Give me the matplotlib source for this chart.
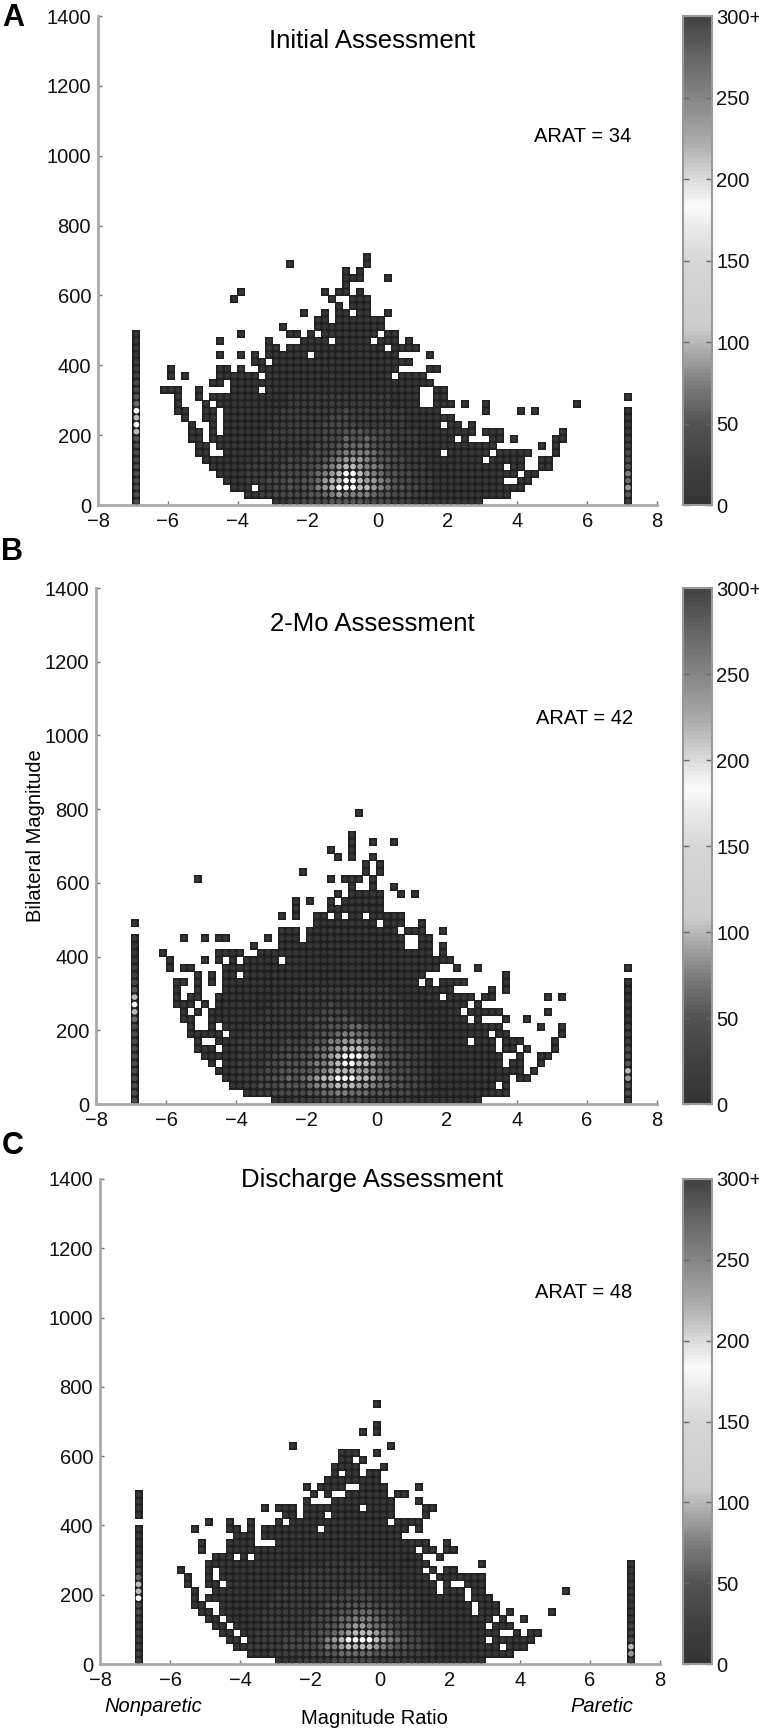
import numpy as np
import matplotlib
matplotlib.use('Agg')
import matplotlib.pyplot as plt
from matplotlib.colors import LinearSegmentedColormap

plt.rcParams['font.family'] = ['Liberation Sans', 'DejaVu Sans']

# counts per cell. each string is one row, bottom row first,
# each group is 10 columns. '.' = no data, digits index into count_levels
count_levels = [0, 5, 20, 38, 52, 64, 76, 88, 102, 185]

map_a = [
    ".......... .......112 2333344444 3333222111 1111111...",
    ".......... ...1122333 3344567666 6544333222 1111111111 1",
    ".......... .111.22334 3446789998 8765443322 1111111111 111",
    ".......... 1112223334 3445788998 7765433222 1111111111 ..11",
    ".........1 1112222333 3345678998 7654433222 1111111111 11.11",
    "........11 1112222233 3334567887 6654332221 1111111111 .11..11",
    ".......111 1111222223 2333456777 6544332221 1111111.11 111..11",
    "......11.. 1111122222 2233345666 6543322211 1.111111.1 1111...1",
    "......11.1 1111122222 2223334555 5433322211 111111111. .....1.1",
    ".....11.11 1111112222 2222333544 5433222211 111.1...11 .1.....11",
    ".....11.1. 1111112222 2222333444 3333222211 111111.111 ........1",
    ".....1..1. 1111111222 2222333332 2222221111 1.11.1",
    "....1..11. 1111111222 2222233322 2222221111 111",
    "...11..11. 1111111122 2222222322 2222221111 1......1 ..1.1",
    "...1...1.1 1111111112 2222222222 22221111.. 111.1..1 .......... 1",
    "...1..1.11 1111111112 2222222222 22221111.. 11",
    ".111..1... .1111.1111 1111111111 11111111.. 11",
    "........11 .111111111 1111111111 1111111111",
    "..1.1....1 11111.1111 1111111111 1111.1111",
    "..1......1 1.1..11111 1111111111 11111....1 1",
    ".......... ....11.111 1111111111 1111111",
    ".........1 ..1.1.1111 11.1111111 11111....1",
    ".......... ......11.1 1111111111 111.1111",
    ".........1 ......1... .1111.1111 1.111.1",
    ".......... ..1......1 1.1.111111 11.11",
    ".......... ........1. ...1111111 111",
    ".......... .......... ...11.1111 111",
    ".......... .......... .1..1.11.1 1..1",
    ".......... .......... ......1.11 1",
    ".......... .1........ .....1..11 1",
    ".......... ..1....... ....1.11.1",
    ".......... .......... .......1",
    ".......... .......... .......111 ...1",
    ".......... .......... .......1.1",
    ".......... .........1 .......... 1",
    ".......... .......... .......... 1",
]

map_b = [
    ".......... .......111 2222333333 2222222111 1111111",
    ".......... ...1122333 3344556655 5444333222 1111111111 1",
    ".......... .112233344 4456778887 7655443322 111111111. 1",
    ".......... 1122233445 4567889998 8765443322 1111111111 1.11",
    ".........1 1122223344 4445678887 7654433222 1111111111 111.1",
    "........1. 1122223344 4456678998 8755433222 1111111111 .11..1",
    ".......111 1122222334 3445678999 8754333222 1111111111 ..1..11",
    "......111. 1122222233 3345567888 7654332222 111111111. 11.1...1",
    "......1..1 1122222223 2334466777 6543322222 11111.111. 111....1",
    ".....11111 .112222222 2233445665 5433322221 11111111.1 1.......1",
    ".....1..1. 1111222222 2223344455 4333222221 1111111111 .....1..1",
    "....11..11 1111122222 2233343432 2222221111 11111.1... 1..1",
    "....1.1.11 1111112222 2222333322 2222221111 1111.11111 ......1",
    "...111.1.1 1111111222 2222232222 2222221111 11111.1",
    "...1.11..1 1111111111 2222222222 2222211111 1.1111.11. ......1.1",
    "...1..1... 1111111111 1222222222 2222111111 111.....1. 1",
    "...11.1.1. 1111111111 1111111111 11111111.1 .1111..... 1",
    "......1.1. 11.1111111 1111111111 111111111. .......... 1",
    "..1.11.... 1111111111 1111111111 1111111111 1..1..1",
    "..1....1.1 .1.11111.1 1111111111 1111111111 111",
    ".1.......1 111..11111 1111111111 1111111111 .1",
    ".......... ....1...11 1111111111 111111..11 .1",
    "....1..1.1 1.....1.11 1.11111111 111111..11",
    ".......... ........11 1.11111111 11111.111. .1",
    ".......... .......... ...1111111 11.111..1",
    ".......... ........1. 1..11.1.11 .11111",
    ".......... .......... 1....11111 111",
    ".......... .......... 1.1..1.111 111",
    ".......... .......... ......1.11 111..1.1",
    ".......... .......... ........1. .1..1",
    "......1... .......... .....1.111 .1",
    ".......... .......... .1........ 1.1",
    ".......... .......... .......... 1.1",
    ".......... .......... ......1.1. .1",
    ".......... .......... .....1..1.",
    ".......... .......... ........1. .1..1",
    ".......... .......... ........1.",
    "",
    "",
    ".......... .......... .........1",
]

map_c = [
    ".......... .......111 2222233333 3222222111 1111111",
    ".......... ...1112222 2233445555 5444332222 1111111111 1",
    ".......... .112222233 3334667888 8765443322 111111111. 111",
    ".......... 11.1222233 3344678999 9876543322 1111111.11 1111",
    ".........1 1.11222223 2334456788 8765433221 111111111. .1.11",
    "........11 .111122222 2233445677 6554332221 1111111.11 1",
    ".......11. 1111122222 2233345566 6544332211 11111111.1 ..1",
    "......11.1 1111122222 2223334455 5443322211 11111.111. 1.....1",
    ".....11..1 1111112222 2222333444 4333222211 11111.111.",
    ".....1.111 1111111222 2222233333 3222222111 1111.111",
    ".....1..11 1111111222 2222222333 2222222111 .111.11... ........1",
    "....1..11. 1111111122 2222222222 2222111111 .1..111",
    "....1..1.1 1111111112 2222222222 222111111. 1111111",
    "...1...1.1 1111111111 1222222222 22111111.1 .11",
    ".......111 1111111111 1111222222 211111111. ......1",
    "........11 1.1.111111 1111111111 11111111.. 1",
    "......1... 1111111111 1111111111 1111111.11 .11",
    "......1... 1111...111 1111111111 111111111. .1",
    ".......... .111.11111 1111111111 11111",
    ".....1.... 11.1.11111 111.111111 111111.1",
    ".......1.. 1..1...1.1 1111111111 111.1111",
    ".......... ........11 .111.11111 1111....1",
    ".......... .....1.111 .11111111. 1111....11",
    ".......... .......... .1...11111 1111...1",
    ".......... .......... ..1.1..111 111.11",
    ".......... .......... .1.1111..1 111....1",
    ".......... .......... ....111111 11",
    ".......... .......... .....1.11. 11",
    ".......... .......... .....1111. ..1",
    ".......... .......... ......11.1",
    ".......... .......... ......111. .1",
    ".......... .........1 .......... ...1",
    "",
    ".......... .......... .........1 .1",
    ".......... .......... .......... .1",
    "",
    "",
    ".......... .......... .......... .1",
]

# the two outer columns, bottom row first, 0 = no data
left_a = [3, 3, 3, 3, 3, 3, 3, 3, 3, 4, 8, 9, 8, 9, 5, 4, 3, 3, 2, 2, 2, 1, 1, 1, 1]
right_a = [2, 4, 7, 5, 6, 4, 3, 3, 2, 2, 1, 1, 1, 1, 0, 1]
left_b = [3, 3, 3, 3, 3, 3, 3, 3, 3, 3, 3, 5, 8, 9, 8, 4, 3, 2, 2, 1, 1, 1, 1, 0, 1]
right_b = [2, 3, 3, 7, 8, 4, 3, 3, 2, 2, 2, 1, 1, 1, 1, 1, 1, 0, 1]
left_c = [2, 2, 2, 2, 2, 2, 2, 3, 3, 9, 8, 8, 5, 3, 2, 2, 1, 1, 1, 1, 0, 1, 1, 1, 1]
right_c = [2, 7, 8, 3, 2, 2, 1, 1, 1, 1, 1, 1, 1, 1, 1]

titles = ['Initial Assessment', '2-Mo Assessment', 'Discharge Assessment']
arat = [34, 42, 48]
panel_letters = ['A', 'B', 'C']
y_ticks = [0, 200, 400, 600, 800, 1000, 1200, 1400]
x_ticks = [-8, -6, -4, -2, 0, 2, 4, 6, 8]
cbar_ticks = [0, 50, 100, 150, 200, 250, 300]
cbar_labels = ['0', '50', '100', '150', '200', '250', '300+']

# grey map of the colorbar
cmap_stops = [(0, '#333333'), (25, '#404040'), (50, '#525252'), (75, '#7d7d7d'), (95, '#ababab'),
              (110, '#cdcdcd'), (150, '#d6d6d6'), (170, '#e8e8e8'), (185, '#fbfbfb'), (200, '#dedede'),
              (225, '#ababab'), (250, '#888888'), (275, '#686868'), (300, '#444444')]
bw = LinearSegmentedColormap.from_list('bw', [(v / 300, c) for v, c in cmap_stops], N=128)

W, H = 759, 1732
fig = plt.figure(figsize=(W / 100, H / 100), dpi=100)


def px_axes(left, top, right, bottom):
    return fig.add_axes([left / W, 1 - bottom / H, (right - left) / W, (bottom - top) / H])


def px_text(x, y, s, **kw):
    return fig.text(x / W, 1 - y / H, s, ha=kw.pop('ha', 'center'), va=kw.pop('va', 'center'), **kw)


def cells(rows, left, right):
    xs, ys, vals = [], [], []
    for r, row in enumerate(rows):
        line = ''.join(g.ljust(10, '.') for g in row.split())
        for j, ch in enumerate(line):
            if ch != '.':
                xs.append(-6.3 + 0.2 * j)
                ys.append(10 + 20 * r)
                vals.append(count_levels[int(ch)])
    for col_x, col in ((-6.9, left), (7.17, right)):
        for r, d in enumerate(col):
            if d:
                xs.append(col_x)
                ys.append(10 + 20 * r)
                vals.append(count_levels[d])
    return xs, ys, vals


panels = [
    (map_a, left_a, right_a, (98, 16, 657, 505)),
    (map_b, left_b, right_b, (96, 588, 657, 1104)),
    (map_c, left_c, right_c, (100, 1179, 660, 1664)),
]

for i, (rows, left, right, box) in enumerate(panels):
    ax = px_axes(*box)
    xs, ys, vals = cells(rows, left, right)
    # dark grid under the cells, the counts show as round dots on it
    ax.scatter(xs, ys, color='#202020', marker='s', s=30, linewidths=0, clip_on=False, zorder=2)
    sc = ax.scatter(xs, ys, c=vals, cmap=bw, vmin=0, vmax=300, marker='o', s=17,
                    linewidths=0, clip_on=False, zorder=3)
    ax.set_xlim(-8, 8)
    ax.set_ylim(0, 1400)
    ax.set_xticks(x_ticks)
    ax.set_yticks(y_ticks)
    ax.tick_params(direction='in', length=3, width=1, color='#777777', labelsize=14.5, pad=5,
                   labelcolor='#111111')
    for side in ('top', 'right'):
        ax.spines[side].set_visible(False)
    for side in ('left', 'bottom'):
        ax.spines[side].set_color('#aaaaaa')
        ax.spines[side].set_linewidth(2)
    ax.patch.set_alpha(0)

    cax = px_axes(683, box[1], 712, box[3])
    cb = fig.colorbar(sc, cax=cax)
    cb.set_ticks(cbar_ticks)
    cb.set_ticklabels(cbar_labels)
    cb.solids.set_edgecolor('face')
    cb.outline.set_edgecolor('#999999')
    cb.outline.set_linewidth(1.5)
    cax.tick_params(direction='in', length=4, width=1, color='#666666', labelsize=14.5, pad=3,
                    labelcolor='#111111', left=True)

px_text(372, 41, titles[0], fontsize=18.5)
px_text(372, 624, titles[1], fontsize=18.5)
px_text(372, 1180, titles[2], fontsize=18.5)
px_text(583, 136, 'ARAT = %d' % arat[0], fontsize=14.5)
px_text(585, 718, 'ARAT = %d' % arat[1], fontsize=14.5)
px_text(584, 1292, 'ARAT = %d' % arat[2], fontsize=14.5)
px_text(13, 18, panel_letters[0], fontsize=22, fontweight='bold')
px_text(12, 552, panel_letters[1], fontsize=22, fontweight='bold')
px_text(13, 1146, panel_letters[2], fontsize=22, fontweight='bold')
px_text(36, 836, 'Bilateral Magnitude', fontsize=14.5, rotation=90)
px_text(374, 1718, 'Magnitude Ratio', fontsize=14.5)
px_text(153, 1707, 'Nonparetic', fontsize=14.5, style='italic')
px_text(602, 1707, 'Paretic', fontsize=14.5, style='italic')

fig.savefig('out.png', dpi=100)
